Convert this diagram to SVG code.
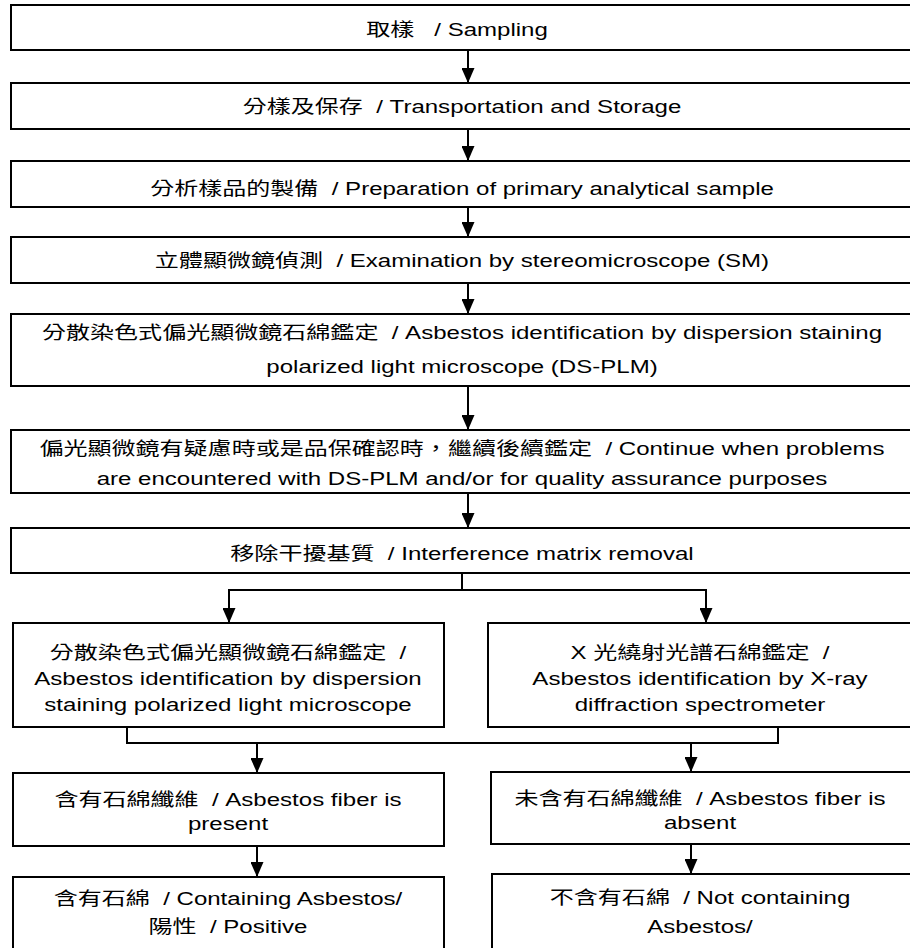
<svg xmlns="http://www.w3.org/2000/svg" width="910" height="948" viewBox="0 0 910 948">
<style>
.box{fill:#fff;stroke:#000;stroke-width:2}
.ln{fill:none;stroke:#000;stroke-width:2}
text{font-family:"Liberation Sans","Noto Sans CJK TC",sans-serif;font-size:18.5px;fill:#000;text-anchor:middle;white-space:pre}
</style>
<defs>
<marker id="ah" markerUnits="userSpaceOnUse" markerWidth="15" markerHeight="13" refX="15" refY="6.5" orient="auto" viewBox="0 0 15 13">
<path d="M0,0 L15,6.5 L0,13 Z" fill="#000"/>
</marker>
</defs>
<g id="connectors">
<line class="ln" x1="468" y1="50" x2="468" y2="83" marker-end="url(#ah)"/>
<line class="ln" x1="468" y1="129" x2="468" y2="161" marker-end="url(#ah)"/>
<line class="ln" x1="468" y1="207" x2="468" y2="237" marker-end="url(#ah)"/>
<line class="ln" x1="468" y1="283" x2="468" y2="314" marker-end="url(#ah)"/>
<line class="ln" x1="468" y1="386" x2="468" y2="430" marker-end="url(#ah)"/>
<line class="ln" x1="468" y1="493" x2="468" y2="528" marker-end="url(#ah)"/>
<path class="ln" d="M462,573 V590 M228,590 H707"/>
<line class="ln" x1="229" y1="589" x2="229" y2="623" marker-end="url(#ah)"/>
<line class="ln" x1="706" y1="589" x2="706" y2="623" marker-end="url(#ah)"/>
<path class="ln" d="M127,727 V743 H778 V727"/>
<line class="ln" x1="257" y1="743" x2="257" y2="773" marker-end="url(#ah)"/>
<line class="ln" x1="691" y1="743" x2="691" y2="772" marker-end="url(#ah)"/>
<line class="ln" x1="257" y1="846" x2="257" y2="877" marker-end="url(#ah)"/>
<line class="ln" x1="691" y1="844" x2="691" y2="874" marker-end="url(#ah)"/>
</g>
<g id="n1"><rect class="box" x="11" y="5" width="902" height="45"/><text transform="matrix(1.3,0,0,1,457,0)" y="36">取樣&#160;&#160; / Sampling</text></g>
<g id="n2"><rect class="box" x="11" y="83" width="902" height="46"/><text transform="matrix(1.3,0,0,1,462,0)" y="113">分樣及保存&#160; / Transportation and Storage</text></g>
<g id="n3"><rect class="box" x="11" y="161" width="902" height="46"/><text transform="matrix(1.3,0,0,1,462,0)" y="195">分析樣品的製備&#160; / Preparation of primary analytical sample</text></g>
<g id="n4"><rect class="box" x="11" y="237" width="902" height="46"/><text transform="matrix(1.3,0,0,1,462,0)" y="267">立體顯微鏡偵測&#160; / Examination by stereomicroscope (SM)</text></g>
<g id="n5"><rect class="box" x="11" y="314" width="902" height="72"/><text transform="matrix(1.3,0,0,1,462,0)" y="339">分散染色式偏光顯微鏡石綿鑑定&#160; / Asbestos identification by dispersion staining</text><text transform="matrix(1.3,0,0,1,462,0)" y="373">polarized light microscope (DS-PLM)</text></g>
<g id="n6"><rect class="box" x="11" y="430" width="902" height="63"/><text transform="matrix(1.3,0,0,1,462,0)" y="455">偏光顯微鏡有疑慮時或是品保確認時，繼續後續鑑定&#160; / Continue when problems</text><text transform="matrix(1.3,0,0,1,462,0)" y="485">are encountered with DS-PLM and/or for quality assurance purposes</text></g>
<g id="n7"><rect class="box" x="11" y="528" width="902" height="45"/><text transform="matrix(1.3,0,0,1,462,0)" y="560">移除干擾基質&#160; / Interference matrix removal</text></g>
<g id="n8"><rect class="box" x="13" y="623" width="431" height="104"/><text transform="matrix(1.3,0,0,1,228,0)" y="659">分散染色式偏光顯微鏡石綿鑑定&#160; /</text><text transform="matrix(1.3,0,0,1,228,0)" y="685">Asbestos identification by dispersion</text><text transform="matrix(1.3,0,0,1,228,0)" y="711">staining polarized light microscope</text></g>
<g id="n9"><rect class="box" x="488" y="623" width="425" height="104"/><text transform="matrix(1.3,0,0,1,700,0)" y="659">X 光繞射光譜石綿鑑定&#160; /</text><text transform="matrix(1.3,0,0,1,700,0)" y="685">Asbestos identification by X-ray</text><text transform="matrix(1.3,0,0,1,700,0)" y="711">diffraction spectrometer</text></g>
<g id="n10"><rect class="box" x="13" y="773" width="431" height="73"/><text transform="matrix(1.3,0,0,1,228,0)" y="806">含有石綿纖維&#160; / Asbestos fiber is</text><text transform="matrix(1.3,0,0,1,228,0)" y="830">present</text></g>
<g id="n11"><rect class="box" x="491" y="772" width="422" height="72"/><text transform="matrix(1.3,0,0,1,700,0)" y="805">未含有石綿纖維&#160; / Asbestos fiber is</text><text transform="matrix(1.3,0,0,1,700,0)" y="829">absent</text></g>
<g id="n12"><rect class="box" x="13" y="877" width="431" height="80"/><text transform="matrix(1.3,0,0,1,228,0)" y="905">含有石綿&#160; / Containing Asbestos/</text><text transform="matrix(1.3,0,0,1,228,0)" y="933">陽性&#160; / Positive</text></g>
<g id="n13"><rect class="box" x="492" y="874" width="421" height="83"/><text transform="matrix(1.3,0,0,1,700,0)" y="904">不含有石綿&#160; / Not containing</text><text transform="matrix(1.3,0,0,1,700,0)" y="933">Asbestos/</text></g>
</svg>
